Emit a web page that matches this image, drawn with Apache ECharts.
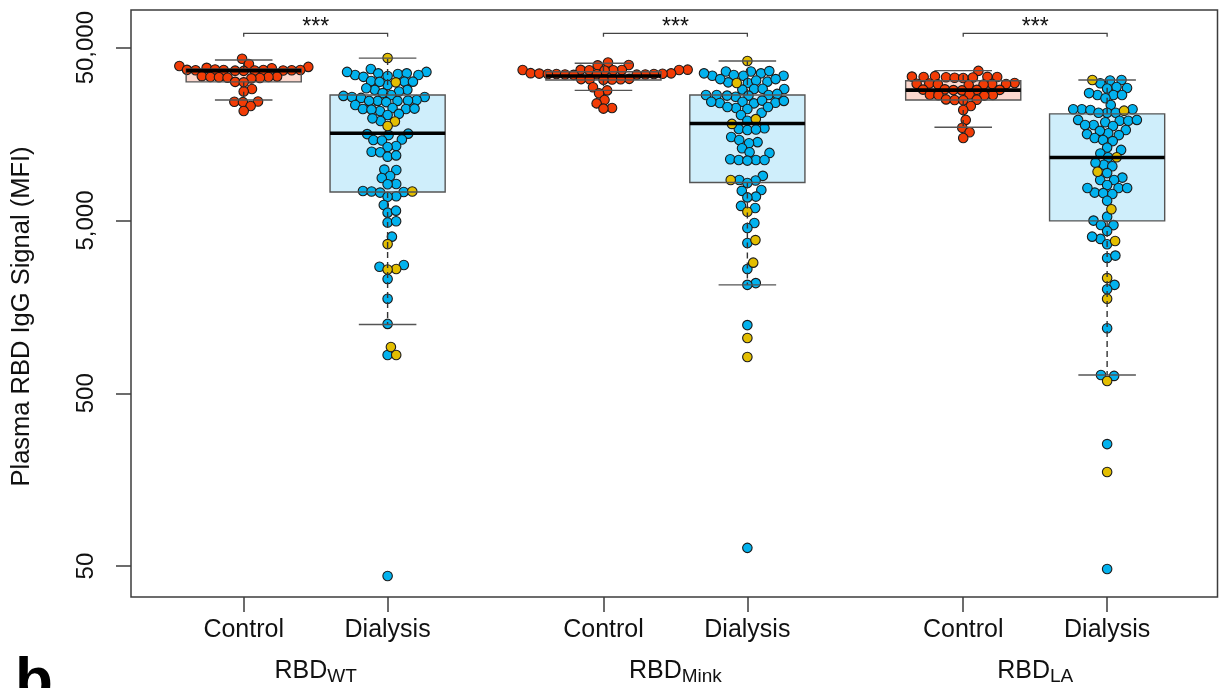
<!DOCTYPE html>
<html><head><meta charset="utf-8">
<script src="https://cdn.jsdelivr.net/npm/echarts@6/dist/echarts.min.js"></script>
<style>html,body{margin:0;padding:0;background:#fff}#c{width:1219px;height:688px}</style>
</head><body><div id="c"></div>
<script>
// ---------- data ----------
const groupPositions = [1, 2, 3.5, 4.5, 6, 7];
const groupLabels = ['Control', 'Dialysis', 'Control', 'Dialysis', 'Control', 'Dialysis'];
const antigenPositions = [1.5, 4, 6.5];
const antigenSubs = ['WT', 'Mink', 'LA'];
const yTicks = [50, 500, 5000, 50000];
const significance = ['***', '***', '***'];

// box statistics [lower whisker, Q1, median, Q3, upper whisker]
const boxControlWT = [24900, 31700, 36800, 37700, 42400];
const boxDialysisWT = [1250, 7300, 16000, 26600, 43500];
const boxControlMink = [28300, 32500, 34300, 36300, 40600];
const boxDialysisMink = [2120, 8300, 18200, 26600, 41900];
const boxControlLA = [17300, 24900, 28400, 32200, 36800];
const boxDialysisLA = [638, 4970, 11560, 20700, 32500];

const controlWT = [43100, 40200, 39200, 38700, 38200, 38000,
  37400, 37200, 37100, 37100, 37100, 37000, 37000, 36900, 36900, 36800, 36700,
  34200, 34000, 33800, 33800, 33700, 33500, 33400, 33200,
  31700, 31500, 28800, 27900, 24400, 24300, 24200, 23000, 21500];

const dialysisWTBlue = [37600,
  36200, 35500, 34300, 35200, 34750, 34750, 36200, 33900, 35500,
  31800, 31800, 30400, 32100, 31700,
  28500, 28500, 27900, 29100, 27300, 26600,
  26300, 25900, 25900, 25600,
  24600, 24600, 24600, 23300, 24200, 24900, 24700,
  22400, 22100, 22100, 21500, 21900, 22200,
  20700, 20400, 18800, 19500,
  15800, 15900, 15600, 14700, 14600, 14500, 13500, 13300,
  12500, 12400, 11700, 11900, 9800, 9850, 9050, 8810, 8130, 8100,
  7400, 7360, 7300, 7250, 6900, 6860, 6150, 5550, 5700, 4870, 4950, 4030,
  2700, 2760, 2290, 1760, 1260, 833, 43.8];
const dialysisWTYellow = [43600, 31500, 18700, 17600, 7360, 3650, 2620, 2600, 926, 833];

const controlMink = [41000, 39700, 39500,
  37300, 37200, 37100, 37100, 37100, 37000, 37000, 36900,
  35600, 35500, 35400, 35300, 35200, 35200, 35200, 35100, 35000, 35000, 34900, 34800,
  33000, 32900, 32800, 32800, 32700, 32600,
  29500, 28300, 27200, 24900, 23800, 22400, 22200];

const dialysisMinkBlue = [
  36400, 35500, 34400, 34400, 34400, 36400, 34750, 35500, 36600,
  31800, 31500, 31200, 32900, 32300, 32900,
  28800, 28600, 28800, 28900,
  26600, 26600, 26400, 27000, 26000, 26400, 26600,
  24300, 24000, 24600, 23800, 24700, 23900, 24300,
  22400, 22100, 21000, 22700, 22700,
  20400, 18900, 16900, 17100, 16700, 16800,
  15200, 14600, 14200, 14000, 13100, 12300, 12400,
  11300, 11200, 11200, 11200, 11100,
  9060, 8580, 8520, 8240, 7510, 7420, 6870, 6800, 6070, 5900,
  4830, 4520, 3700, 2620, 2170, 2120, 1240, 63.7];
const dialysisMinkYellow = [41900, 31200, 19300, 18100, 8580, 5620, 3850, 2850, 1045, 811];

const controlLA = [36700,
  34200, 34000, 33900, 33800, 33800, 33700, 33600, 33500, 33400,
  31200, 31000, 30900, 30800, 30800, 30700, 30600, 30400,
  28700, 28600, 28500, 28500, 28400, 28300,
  26800, 26700, 26600, 26500, 26400,
  25100, 25000, 24900, 24800,
  23000, 21800, 19100, 17200, 16200, 15000];

const dialysisLABlue = [32500, 32300, 31100, 29200, 29600, 29000,
  26600, 26600, 25500, 26600, 27300, 23300,
  22000, 21800, 21000, 21000, 21000, 22000, 22000,
  19100, 18900, 18500, 18900, 19100,
  17850, 17600, 16700, 17850,
  16000, 15800, 16500, 15000, 15600, 14600, 14400,
  13200, 12800, 12200, 11600, 10500, 10800, 10300, 9400,
  8850, 8580, 8580, 8020, 7710, 7250, 7710, 7710, 7200, 7120,
  6500, 5260, 4990, 4710, 4700, 4350, 3910, 4030, 3640, 3030, 3130,
  2120, 2000, 1190, 638, 630, 254, 48.1];
const dialysisLAYellow = [32500, 21600, 11600, 9570, 5810, 3800, 2320, 1760, 589, 175];

// ---------- styling constants ----------
const FONT = '"Liberation Sans", Arial, sans-serif';
const COL_CONTROL = '#F23C06';
const COL_BLUE = '#02B2EE';
const COL_YELLOW = '#E3BE00';
const FILL_CONTROL = '#FCD8CE';
const FILL_DIALYSIS = '#CFEEFB';
const BOX_HALF = 0.4, CAP_HALF = 0.2;
const bracketLevel = 60500, bracketTickEnd = 57900, starLevel = 65000;
const SWARM_D = 8.6, SYMBOL = 9.5;

const boxes = [boxControlWT, boxDialysisWT, boxControlMink, boxDialysisMink, boxControlLA, boxDialysisLA];
const groups = [
  controlWT.map(v => ({v, c: 'r'})),
  dialysisWTBlue.map(v => ({v, c: 'b'})).concat(dialysisWTYellow.map(v => ({v, c: 'y'}))),
  controlMink.map(v => ({v, c: 'r'})),
  dialysisMinkBlue.map(v => ({v, c: 'b'})).concat(dialysisMinkYellow.map(v => ({v, c: 'y'}))),
  controlLA.map(v => ({v, c: 'r'})),
  dialysisLABlue.map(v => ({v, c: 'b'})).concat(dialysisLAYellow.map(v => ({v, c: 'y'})))
];

const chart = echarts.init(document.getElementById('c'), null, {renderer: 'canvas'});

const xMin = 0.2168, xMax = 7.767;
function xLabel(v) {
  const i = groupPositions.findIndex(p => Math.abs(p - v) < 1e-6);
  return i >= 0 ? groupLabels[i] : '';
}
function antigenLabel(v) {
  const i = antigenPositions.findIndex(p => Math.abs(p - v) < 1e-6);
  return i >= 0 ? '{a|RBD}{b|' + antigenSubs[i] + '}' : '';
}

const baseOption = {
  animation: false,
  backgroundColor: '#fff',
  grid: {left: 131, top: 10, right: 1.5, bottom: 91, show: true, borderColor: '#3c3c3c', borderWidth: 1.5, backgroundColor: 'transparent'},
  xAxis: [{
    type: 'value', min: xMin, max: xMax, position: 'bottom',
    axisLine: {show: false}, splitLine: {show: false},
    axisTick: {show: true, length: 15, customValues: groupPositions, lineStyle: {color: '#3c3c3c', width: 1.5}},
    axisLabel: {customValues: groupPositions, formatter: xLabel, margin: 21, fontSize: 25, color: '#111', fontFamily: FONT}
  }, {
    type: 'value', min: xMin, max: xMax, position: 'bottom', gridIndex: 0,
    axisLine: {show: false}, splitLine: {show: false}, axisTick: {show: false},
    axisLabel: {customValues: antigenPositions, formatter: antigenLabel, margin: 60, color: '#111',
      rich: {a: {fontSize: 25, fontFamily: FONT, color: '#111'},
             b: {fontSize: 19, fontFamily: FONT, color: '#111', padding: [10, 0, 0, 0]}}}
  }],
  yAxis: {
    type: 'log', logBase: 10, min: 33.1, max: 82600,
    axisLine: {show: false}, splitLine: {show: false},
    axisTick: {show: true, length: 15, customValues: yTicks, lineStyle: {color: '#3c3c3c', width: 1.5}},
    axisLabel: {customValues: yTicks, rotate: 90, margin: 33, fontSize: 24, color: '#111', fontFamily: FONT,
      formatter: v => Math.round(v).toLocaleString('en-US')},
    name: 'Plasma RBD IgG Signal (MFI)', nameLocation: 'middle', nameGap: 96, nameRotate: 90,
    nameTextStyle: {fontSize: 25.5, color: '#111', fontFamily: FONT, padding: [0, 26, 0, 0]}
  },
  graphic: [{type: 'text', left: 15, top: 652, style: {text: 'b', font: 'bold 62px ' + FONT, fill: '#000'}}],
  series: [{type: 'scatter', data: []}]
};
chart.setOption(baseOption);

// ---------- beeswarm layout (R beeswarm "swarm", ascending priority) ----------
function swarm(ys, d) {
  const n = ys.length;
  const order = ys.map((y, i) => i).sort((a, b) => ys[b] - ys[a]);
  const xs = new Array(n).fill(0);
  const placed = [];
  for (const i of order) {
    const yi = ys[i];
    const near = placed.filter(j => Math.abs(ys[j] - yi) < d);
    if (near.length) {
      const cands = [0];
      near.forEach(j => cands.push(xs[j] + Math.sqrt(d * d - (ys[j] - yi) ** 2)));
      near.forEach(j => cands.push(xs[j] - Math.sqrt(d * d - (ys[j] - yi) ** 2)));
      let best = Infinity;
      for (const c of cands) {
        const bad = near.some(j => (c - xs[j]) ** 2 + (ys[j] - yi) ** 2 < d * d * 0.999);
        if (!bad && Math.abs(c) < Math.abs(best)) best = c;
      }
      xs[i] = best;
    }
    placed.push(i);
  }
  return xs;
}

const pxPerUnit = chart.convertToPixel({gridIndex: 0}, [2, 1000])[0] - chart.convertToPixel({gridIndex: 0}, [1, 1000])[0];
const red = [], blue = [], yellow = [];
groups.forEach((g, gi) => {
  const x0 = groupPositions[gi];
  const ys = g.map(p => chart.convertToPixel({gridIndex: 0}, [x0, p.v])[1]);
  const offs = swarm(ys, SWARM_D);
  g.forEach((p, k) => {
    const item = [x0 + offs[k] / pxPerUnit, p.v];
    (p.c === 'r' ? red : p.c === 'b' ? blue : yellow).push(item);
  });
});

const boxData = boxes.map((b, i) => [groupPositions[i]].concat(b).concat([i]));

function boxFill(params, api) {
  const x = api.value(0);
  const tl = api.coord([x - BOX_HALF, api.value(4)]);
  const br = api.coord([x + BOX_HALF, api.value(2)]);
  const ctrl = groupLabels[api.value(6)] === 'Control';
  return {type: 'rect', shape: {x: tl[0], y: tl[1], width: br[0] - tl[0], height: br[1] - tl[1]},
    style: {fill: ctrl ? FILL_CONTROL : FILL_DIALYSIS, stroke: null}};
}
function boxLines(params, api) {
  const x = api.value(0);
  const lo = api.value(1), q1 = api.value(2), med = api.value(3), q3 = api.value(4), hi = api.value(5);
  const tl = api.coord([x - BOX_HALF, q3]);
  const br = api.coord([x + BOX_HALF, q1]);
  const c = api.coord([x, med]);
  const pLo = api.coord([x, lo]), pHi = api.coord([x, hi]);
  const capL = api.coord([x - CAP_HALF, lo]), capR = api.coord([x + CAP_HALF, lo]);
  const capL2 = api.coord([x - CAP_HALF, hi]), capR2 = api.coord([x + CAP_HALF, hi]);
  const dash = {stroke: '#333', lineWidth: 1.4, lineDash: [6, 4]};
  const solid = {stroke: '#555', lineWidth: 1.4};
  return {type: 'group', children: [
    {type: 'line', shape: {x1: c[0], y1: tl[1], x2: c[0], y2: pHi[1]}, style: dash},
    {type: 'line', shape: {x1: c[0], y1: br[1], x2: c[0], y2: pLo[1]}, style: dash},
    {type: 'line', shape: {x1: capL[0], y1: capL[1], x2: capR[0], y2: capR[1]}, style: solid},
    {type: 'line', shape: {x1: capL2[0], y1: capL2[1], x2: capR2[0], y2: capR2[1]}, style: solid},
    {type: 'rect', shape: {x: tl[0], y: tl[1], width: br[0] - tl[0], height: br[1] - tl[1]}, style: {fill: null, stroke: '#555', lineWidth: 1.4}},
    {type: 'line', shape: {x1: tl[0], y1: c[1], x2: br[0], y2: c[1]}, style: {stroke: '#000', lineWidth: 3.6}}
  ]};
}
const bracketData = antigenPositions.map((p, i) => [groupPositions[2 * i], groupPositions[2 * i + 1], i]);
function bracket(params, api) {
  const a = api.coord([api.value(0), bracketLevel]);
  const b = api.coord([api.value(1), bracketLevel]);
  const aE = api.coord([api.value(0), bracketTickEnd]);
  const t = api.coord([(api.value(0) + api.value(1)) / 2, starLevel]);
  const st = {stroke: '#444', lineWidth: 1.3};
  return {type: 'group', children: [
    {type: 'polyline', shape: {points: [[a[0], aE[1]], a, b, [b[0], aE[1]]]}, style: Object.assign({fill: null}, st)},
    {type: 'text', x: t[0], y: t[1], style: {text: significance[api.value(2)], font: '23px ' + FONT, fill: '#111', align: 'center', verticalAlign: 'middle'}}
  ]};
}

const pointStyle = col => ({color: col, borderColor: '#1b1b1b', borderWidth: 1.1, opacity: 1});
chart.setOption({
  series: [
    {type: 'custom', renderItem: boxFill, data: boxData, z: 1, silent: true},
    {type: 'scatter', data: red, symbolSize: SYMBOL, itemStyle: pointStyle(COL_CONTROL), z: 2},
    {type: 'scatter', data: blue, symbolSize: SYMBOL, itemStyle: pointStyle(COL_BLUE), z: 2},
    {type: 'scatter', data: yellow, symbolSize: SYMBOL, itemStyle: pointStyle(COL_YELLOW), z: 2},
    {type: 'custom', renderItem: boxLines, data: boxData, z: 3, silent: true},
    {type: 'custom', renderItem: bracket, data: bracketData, z: 3, silent: true}
  ]
});
</script></body></html>
